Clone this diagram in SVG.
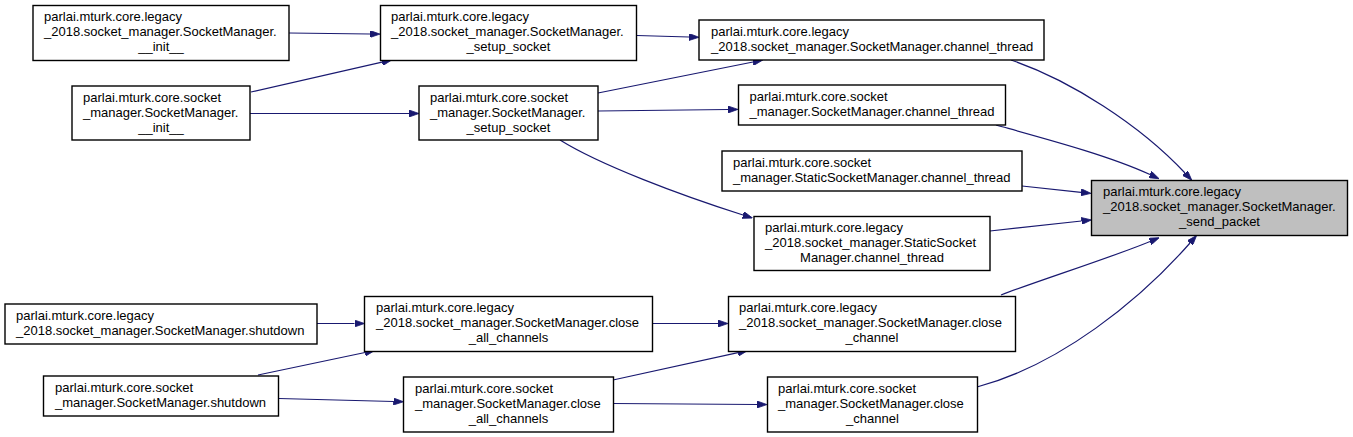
<svg xmlns="http://www.w3.org/2000/svg" width="1353" height="437" viewBox="0 0 1353 437">
<style>
.node rect{fill:#ffffff;stroke:#000000;stroke-width:1.4}
.node.target rect{fill:#bfbfbf}
.node text{font-family:"Liberation Sans",Arial,Helvetica,sans-serif;font-size:13px;fill:#000000}
.node text.c{text-anchor:middle}
.edge{fill:none;stroke:#191970;stroke-width:1.2;marker-end:url(#arrow)}
</style>
<defs>
<marker id="arrow" viewBox="0 0 10 7" refX="0" refY="3.5" markerWidth="10" markerHeight="7" markerUnits="userSpaceOnUse" orient="auto">
<path d="M0,0 L10,3.5 L0,7 z" fill="#191970" stroke="#191970" stroke-width="0.8"/>
</marker>
</defs>
<rect width="1353" height="437" fill="#ffffff"/>
<g id="connectors">
<path class="edge" d="M289,33 L370,34"/>
<path class="edge" d="M251,92 L382,62.2"/>
<path class="edge" d="M250,113.5 L409,113.5"/>
<path class="edge" d="M637,35.5 L689,37"/>
<path class="edge" d="M598,93 L753,62"/>
<path class="edge" d="M598,111 L728,109.5"/>
<path class="edge" d="M560,140 C600,165 680,195 743,215"/>
<path class="edge" d="M1011,60 C1070,80 1140,125 1185,173"/>
<path class="edge" d="M996,125 C1050,140 1110,156 1150,174.5"/>
<path class="edge" d="M1022,186 L1081,192.3"/>
<path class="edge" d="M990,231 L1081.5,221"/>
<path class="edge" d="M1001,295 C1040,280 1110,258 1150,241.5"/>
<path class="edge" d="M977,387 C1060,365 1140,300 1190,243"/>
<path class="edge" d="M317,323.5 L354.5,323.5"/>
<path class="edge" d="M258,375 L365,352.5"/>
<path class="edge" d="M279,398.5 L393.5,401.5"/>
<path class="edge" d="M652,323.5 L718,323.5"/>
<path class="edge" d="M613,380 L738,352.6"/>
<path class="edge" d="M613,403.5 L757,404.5"/>
</g>
<g id="node_target" class="node target">
<rect x="1091.5" y="180.5" width="256" height="55"/>
<text x="1103" y="196">parlai.mturk.core.legacy</text>
<text x="1103" y="211">_2018.socket_manager.SocketManager.</text>
<text class="c" x="1219.5" y="226">_send_packet</text>
</g>
<g id="node_legacy_init" class="node">
<rect x="33" y="5.5" width="256" height="55"/>
<text x="44" y="21">parlai.mturk.core.legacy</text>
<text x="44" y="36">_2018.socket_manager.SocketManager.</text>
<text class="c" x="161" y="51">__init__</text>
</g>
<g id="node_socket_init" class="node">
<rect x="72" y="86" width="178" height="54"/>
<text x="83" y="101.5">parlai.mturk.core.socket</text>
<text x="83" y="116.5">_manager.SocketManager.</text>
<text class="c" x="161" y="131.5">__init__</text>
</g>
<g id="node_legacy_setup_socket" class="node">
<rect x="380.5" y="5.5" width="256" height="55"/>
<text x="391" y="21">parlai.mturk.core.legacy</text>
<text x="391" y="36">_2018.socket_manager.SocketManager.</text>
<text class="c" x="508.5" y="51">_setup_socket</text>
</g>
<g id="node_socket_setup_socket" class="node">
<rect x="419" y="86" width="179" height="54"/>
<text x="430" y="101.5">parlai.mturk.core.socket</text>
<text x="430" y="116.5">_manager.SocketManager.</text>
<text class="c" x="508.5" y="131.5">_setup_socket</text>
</g>
<g id="node_legacy_channel_thread" class="node">
<rect x="699" y="20" width="345" height="40"/>
<text x="711" y="35.5">parlai.mturk.core.legacy</text>
<text x="711" y="50.5">_2018.socket_manager.SocketManager.channel_thread</text>
</g>
<g id="node_socket_channel_thread" class="node">
<rect x="738.5" y="85" width="267" height="40"/>
<text x="749.5" y="100.5">parlai.mturk.core.socket</text>
<text x="749.5" y="115.5">_manager.SocketManager.channel_thread</text>
</g>
<g id="node_socket_static_channel_thread" class="node">
<rect x="722" y="151" width="300" height="40"/>
<text x="733" y="166.5">parlai.mturk.core.socket</text>
<text x="733" y="181.5">_manager.StaticSocketManager.channel_thread</text>
</g>
<g id="node_legacy_static_channel_thread" class="node">
<rect x="754" y="216.5" width="236" height="54"/>
<text x="765" y="232">parlai.mturk.core.legacy</text>
<text x="765" y="247">_2018.socket_manager.StaticSocket</text>
<text class="c" x="872" y="262">Manager.channel_thread</text>
</g>
<g id="node_legacy_shutdown" class="node">
<rect x="5" y="304" width="312" height="40"/>
<text x="16" y="319.5">parlai.mturk.core.legacy</text>
<text x="16" y="334.5">_2018.socket_manager.SocketManager.shutdown</text>
</g>
<g id="node_socket_shutdown" class="node">
<rect x="43.5" y="376" width="235" height="40"/>
<text x="55" y="391.5">parlai.mturk.core.socket</text>
<text x="55" y="406.5">_manager.SocketManager.shutdown</text>
</g>
<g id="node_legacy_close_all_channels" class="node">
<rect x="364.5" y="296.5" width="288" height="55"/>
<text x="376" y="312">parlai.mturk.core.legacy</text>
<text x="376" y="327">_2018.socket_manager.SocketManager.close</text>
<text class="c" x="508.5" y="342">_all_channels</text>
</g>
<g id="node_socket_close_all_channels" class="node">
<rect x="403.5" y="377" width="210" height="55"/>
<text x="415" y="392.5">parlai.mturk.core.socket</text>
<text x="415" y="407.5">_manager.SocketManager.close</text>
<text class="c" x="508.5" y="422.5">_all_channels</text>
</g>
<g id="node_legacy_close_channel" class="node">
<rect x="728.5" y="296.5" width="287" height="55"/>
<text x="739" y="312">parlai.mturk.core.legacy</text>
<text x="739" y="327">_2018.socket_manager.SocketManager.close</text>
<text class="c" x="872" y="342">_channel</text>
</g>
<g id="node_socket_close_channel" class="node">
<rect x="767.5" y="377" width="210" height="55"/>
<text x="778" y="392.5">parlai.mturk.core.socket</text>
<text x="778" y="407.5">_manager.SocketManager.close</text>
<text class="c" x="872.5" y="422.5">_channel</text>
</g>
</svg>
